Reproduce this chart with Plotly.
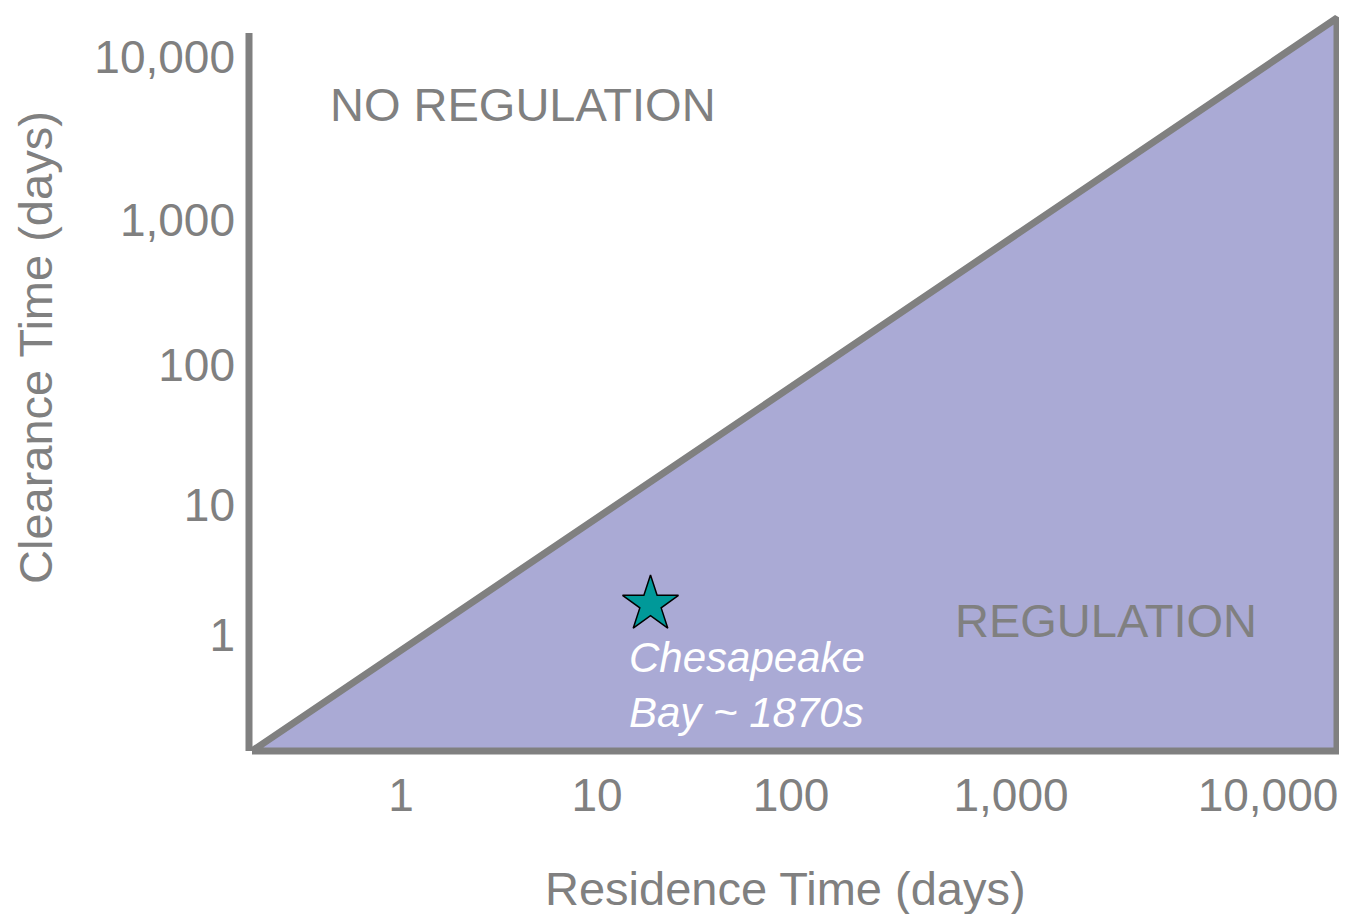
import plotly.graph_objects as go

# Schematic coordinates (arbitrary units; axes are illustrative, not true scales)
x_tick_vals = [161, 357, 551, 771, 1028]
x_tick_text = ["1", "10", "100", "1,000", "10,000"]
y_tick_vals = [120, 250, 390, 535, 698]
y_tick_text = ["1", "10", "100", "1,000", "10,000"]

# Regulation region (triangle) vertices
region_x = [12, 1097, 1097, 12]
region_y = [4, 737, 4, 4]

# Vertical axis line
axis_x = [9, 9]
axis_y = [4, 722]

# Chesapeake Bay point
bay_x = [410.5]
bay_y = [150.6]

GRAY = "#808080"
FONT = "Arial, Liberation Sans, sans-serif"

fig = go.Figure()

fig.add_trace(go.Scatter(
    x=region_x, y=region_y, mode="lines", fill="toself",
    fillcolor="#AAAAD5", line=dict(color=GRAY, width=7),
    hoverinfo="skip", showlegend=False,
))
fig.add_trace(go.Scatter(
    x=axis_x, y=axis_y, mode="lines",
    line=dict(color=GRAY, width=7), hoverinfo="skip", showlegend=False,
))
fig.add_trace(go.Scatter(
    x=bay_x, y=bay_y, mode="markers",
    marker=dict(symbol="star", size=42, color="#009999",
                line=dict(color="black", width=1.5)),
    showlegend=False, cliponaxis=False,
))

fig.add_annotation(x=282.5, y=651, text="NO REGULATION", showarrow=False,
                   font=dict(family=FONT, size=47, color=GRAY),
                   xanchor="center", yanchor="middle")
fig.add_annotation(x=865.5, y=135, text="REGULATION", showarrow=False,
                   font=dict(family=FONT, size=47, color=GRAY),
                   xanchor="center", yanchor="middle")
fig.add_annotation(x=387, y=70, text="<i>Chesapeake<br>Bay ~ 1870s</i>",
                   showarrow=False, align="left",
                   font=dict(family=FONT, size=42, color="white"),
                   xanchor="left", yanchor="middle")
# Axis titles
fig.add_annotation(x=0, xref="paper", xshift=-201, y=407, yref="y",
                   text="Clearance Time (days)", textangle=-90, showarrow=False,
                   font=dict(family=FONT, size=47, color=GRAY),
                   xanchor="center", yanchor="middle")
fig.add_annotation(x=545, xref="x", y=0, yref="paper", yshift=-133,
                   text="Residence Time (days)", showarrow=False,
                   font=dict(family=FONT, size=47, color=GRAY),
                   xanchor="center", yanchor="middle")

fig.update_layout(
    width=1339, height=906,
    margin=dict(l=228, r=0, t=0, b=159),
    plot_bgcolor="white", paper_bgcolor="white",
    showlegend=False,
)
fig.update_xaxes(
    range=[-4, 1107], showgrid=False, zeroline=False, showline=False,
    tickmode="array", tickvals=x_tick_vals, ticktext=x_tick_text,
    ticks="outside", ticklen=0, tickcolor="rgba(0,0,0,0)",
    tickfont=dict(family=FONT, size=46, color=GRAY),
    fixedrange=True,
)
fig.update_yaxes(
    range=[0, 747], showgrid=False, zeroline=False, showline=False,
    tickmode="array", tickvals=y_tick_vals, ticktext=y_tick_text,
    ticks="", tickfont=dict(family=FONT, size=46, color=GRAY),
    fixedrange=True,
)

fig.write_html("out.html")
